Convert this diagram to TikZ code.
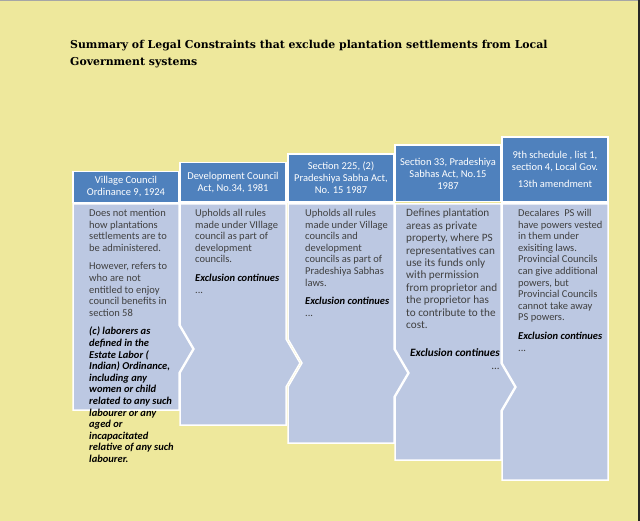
\documentclass[tikz,border=0pt]{standalone}
\usepackage{fontspec}
\setmainfont{Carlito}
\newfontfamily\titlefont{DejaVu Serif}
\usetikzlibrary{positioning}

\definecolor{bgyellow}{RGB}{238,232,156}
\definecolor{hdrblue}{RGB}{79,129,189}
\definecolor{bodyblue}{RGB}{188,200,226}
\definecolor{txtgray}{RGB}{64,64,64}

\tikzset{
  header/.style={draw=white, line width=1.5pt, fill=hdrblue, text=white, align=center,
    inner sep=0pt, minimum width=106pt, font=\fontsize{10.5}{12}\selectfont},
  bodyshape/.style={draw=white, line width=1.5pt, fill=bodyblue, line join=miter},
  bodytext/.style={anchor=north west, text=txtgray, align=left, inner sep=0pt,
    font=\fontsize{10.5}{11.6}\selectfont},
  widetext/.style={bodytext, font=\fontsize{11.2}{12.4}\selectfont},
}
\newcommand{\excl}[1]{{\color{black}\bfseries\itshape #1}}

\begin{document}
\begin{tikzpicture}[x=1pt, y=-1pt]
                % page
                \fill[bgyellow] (0,0) rectangle (640,521);
                \useasboundingbox (0,0) rectangle (640,521);
                \draw[gray!70, thin] (0,0.5) -- (640,0.5);
                \draw[black!85, line width=1.5pt] (639.2,0) -- (639.2,521);

                \node[anchor=north west, inner sep=0pt, align=left,
                      font=\titlefont\bfseries\fontsize{10.9}{17.5}\selectfont] (title) at (70,40)
                      {Summary of Legal Constraints that exclude plantation settlements from Local\\Government systems};

                % bodies, left to right so each one covers the tip of the one before
                \draw[bodyshape] (73,204) -- (179,204) -- (179,325) -- (193,349) -- (179,373)
                      -- (179,410) -- (73,410) -- cycle;
                \draw[bodyshape] (180,204) -- (286,204) -- (286,339) -- (300,363) -- (286,387)
                      -- (286,425) -- (180,425) -- (180,373) -- (194,349) -- (180,325) -- cycle;
                \draw[bodyshape] (288,204) -- (394,204) -- (394,349) -- (408,373) -- (394,397)
                      -- (394,443) -- (288,443) -- (288,387) -- (302,363) -- (288,339) -- cycle;
                \draw[bodyshape] (395,204) -- (501,204) -- (501,363) -- (515,387) -- (501,411)
                      -- (501,460) -- (395,460) -- (395,397) -- (409,373) -- (395,349) -- cycle;
                \draw[bodyshape] (502,204) -- (608,204) -- (608,480) -- (502,480)
                      -- (502,411) -- (516,387) -- (502,363) -- cycle;

                % headers
                \node[header, minimum height=31pt] (hdrVC) at (126,187) {Village Council\\Ordinance 9, 1924};
                \node[header, minimum height=39.5pt] (hdrDC) at (233,182.5) {Development Council\\Act, No.34, 1981};
                \node[header, minimum height=48pt] (hdrPS) at (341,178) {Section 225, (2)\\Pradeshiya Sabha Act,\\No. 15 1987};
                \node[header, minimum height=56.5pt] (hdrSA) at (448,173.5) {Section 33, Pradeshiya\\Sabhas Act, No.15\\1987};
                \node[header, minimum height=65pt] (hdrLG) at (555,169.5) {9th schedule , list 1,\\section 4, Local Gov.\\[5pt]13th amendment};

                % texts
                \node[bodytext] (txtVC) at (89,209) {Does not mention\\how plantations\\settlements are to\\be administered.\\[7pt]
                      However, refers to\\who are not\\entitled to enjoy\\council benefits in\\section 58\\[7pt]
                      \excl{(c) laborers as}\\\excl{defined in the}\\\excl{Estate Labor (}\\\excl{Indian) Ordinance,}\\
                      \excl{including any}\\\excl{women or child}\\\excl{related to any such}\\\excl{labourer or any}\\
                      \excl{aged or}\\\excl{incapacitated}\\\excl{relative of any such}\\\excl{labourer.}};
                \node[bodytext] (txtDC) at (195,209) {Upholds all rules\\made under VIllage\\council as part of\\development\\councils.\\[7pt]
                      \excl{Exclusion continues}\\...};
                \node[bodytext] (txtPS) at (305,209) {Upholds all rules\\made under Village\\councils and\\development\\councils as part of\\Pradeshiya Sabhas\\laws.\\[7pt]
                      \excl{Exclusion continues}\\...};
                \node[widetext] (txtSA) at (406,209) {Defines plantation\\areas as private\\property, where PS\\representatives can\\use its funds only\\with permission\\from proprietor and\\the proprietor has\\to contribute to the\\cost.};
                \node[widetext, anchor=north east, align=right, below left=20pt and -94pt of txtSA.south west] (exclSA)
                      {\excl{Exclusion continues}\\...};
                \node[bodytext] (txtLG) at (518,209) {Decalares\ \ PS will\\have powers vested\\in them under\\exisiting laws.\\Provincial Councils\\can give additional\\powers, but\\Provincial Councils\\cannot take away\\PS powers.\\[7pt]
                      \excl{Exclusion continues}\\...};
            \end{tikzpicture}
\end{document}
